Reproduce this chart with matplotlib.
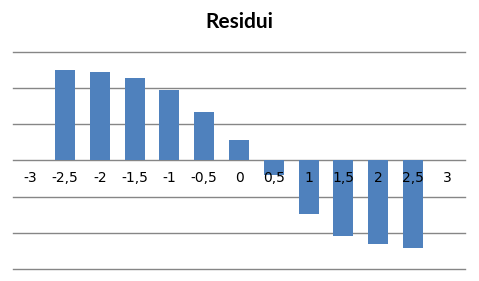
import matplotlib.pyplot as plt
import numpy as np

categories = ["-3", "-2,5", "-2", "-1,5", "-1", "-0,5", "0", "0,5", "1", "1,5", "2", "2,5", "3"]
residuals = [np.nan, 2.49, 2.43, 2.27, 1.94, 1.33, 0.56, -0.41, -1.48, -2.10, -2.32, -2.41, np.nan]

fig = plt.figure(figsize=(4.79, 2.81), dpi=100)
ax = fig.add_axes([13 / 479, 12 / 281, 452 / 479, 217.5 / 281])

x = np.arange(len(categories))
ax.bar(x, residuals, width=0.575, color="#4F81BD", zorder=2)

ax.set_xlim(-0.5, len(categories) - 0.5)
ax.set_ylim(-3, 3)
ax.set_yticks(np.arange(-3, 4, 1))
ax.yaxis.grid(True, color="#868686", linewidth=1)
for gl in ax.yaxis.get_gridlines():
    gl.set_clip_on(False)
ax.set_axisbelow(True)
ax.tick_params(axis="y", left=False, labelleft=False)

ax.set_xticks(x, categories, family="DejaVu Sans", fontsize=7.5)
ax.spines["bottom"].set_position(("data", 0))
ax.xaxis.set_zorder(3)
ax.tick_params(axis="x", length=0, pad=7.5)
for s in ax.spines.values():
    s.set_visible(False)

fig.suptitle("Residui", x=239 / 479, y=1 - 22 / 281, va="center",
             fontsize=15, fontweight="bold", family="Lato")

fig.savefig("out.png", dpi=100)
